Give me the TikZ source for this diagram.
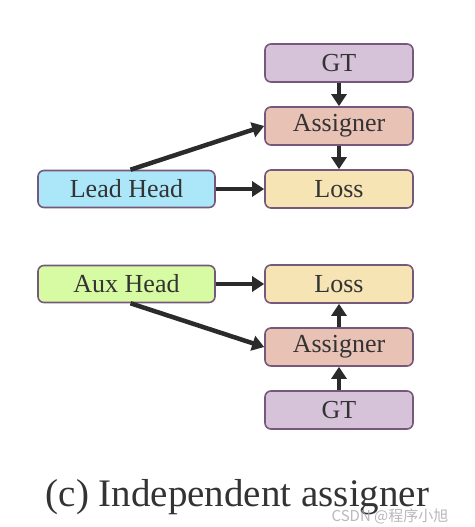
\documentclass[tikz,border=0pt]{standalone}
\usepackage{fontspec}
\setmainfont{Liberation Serif}
\newfontfamily\cjkfont{Noto Sans CJK SC}
\usepackage{xcolor}
\usepackage{tikz}
\usetikzlibrary{arrows.meta,positioning}
\definecolor{gtfill}{HTML}{D6C3DA}
\definecolor{asgfill}{HTML}{E9C2B6}
\definecolor{lossfill}{HTML}{F6E4B5}
\definecolor{leadfill}{HTML}{ABE7F9}
\definecolor{auxfill}{HTML}{D7FBA3}
\definecolor{boxline}{HTML}{76587A}
\definecolor{textdark}{HTML}{333333}
\definecolor{arrowdark}{HTML}{2B2B2B}
\tikzset{
  box/.style={draw=boxline, rounded corners=6pt, line width=1.6pt, align=center, inner sep=0pt,
    minimum width=148pt, minimum height=38pt, text=textdark, font=\fontsize{26}{28}\selectfont},
  headbox/.style={box, minimum width=177pt, minimum height=37pt},
  boxgt/.style={box, fill=gtfill},
  boxasg/.style={box, fill=asgfill},
  boxloss/.style={box, fill=lossfill},
  ar/.style={-{Triangle[length=12pt,width=15pt]}, line width=4.5pt, draw=arrowdark},
}
\begin{document}
\begin{tikzpicture}[x=1pt,y=1pt]
  \useasboundingbox (0,0) rectangle (474,527);
  % lead head branch
  \node[boxgt] (gtA) at (339,464) {GT};
  \node[boxasg] (asgA) at (339,401) {Assigner};
  \node[boxloss] (lossA) at (339,338) {Loss};
  \node[headbox, fill=leadfill] (lead) at (126.5,338) {Lead Head};
  \draw[ar] (gtA) -- (asgA);
  \draw[ar] (asgA) -- (lossA);
  \draw[ar] (lead) -- (lossA);
  \draw[ar] ([xshift=4pt]lead.north) -- (asgA.west);
  % aux head branch
  \node[headbox, fill=auxfill] (aux) at (126.5,243) {Aux Head};
  \node[boxloss] (lossB) at (339,243) {Loss};
  \node[boxasg] (asgB) at (339,180) {Assigner};
  \node[boxgt] (gtB) at (339,117) {GT};
  \draw[ar] (aux) -- (lossB);
  \draw[ar] (asgB) -- (lossB);
  \draw[ar] (gtB) -- (asgB);
  \draw[ar] ([xshift=4pt]aux.south) -- (asgB.west);
  % caption
  \node[font=\fontsize{39}{42}\selectfont, text=textdark] (caption) at (237.5,30) {(c) Independent assigner};
  \node[font=\fontsize{15}{16}\selectfont\cjkfont, text=gray!70, opacity=0.8] (mark) at (390,11) {CSDN @程序小旭};
\end{tikzpicture}
\end{document}
